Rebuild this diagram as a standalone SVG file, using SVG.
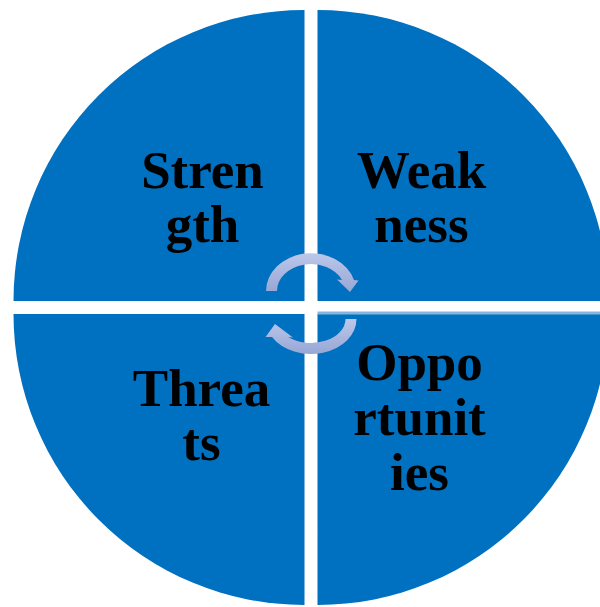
<svg xmlns="http://www.w3.org/2000/svg" width="600" height="607" viewBox="0 0 600 607">
  <defs>
    <linearGradient id="arrowGrad" x1="0" y1="0" x2="0" y2="1">
      <stop offset="0" stop-color="#BCC7E9"/>
      <stop offset="1" stop-color="#97A7D6"/>
    </linearGradient>
    <style>
      .quad { fill: #0070C0; }
      .label { font-family: "Liberation Serif", "Times New Roman", serif; font-weight: bold; font-size: 53px; fill: #000000; text-anchor: middle; }
      .arrow { fill: url(#arrowGrad); }
    </style>
  </defs>
  <rect width="600" height="607" fill="#FFFFFF"/>

  <g id="strength">
    <path class="quad" d="M 304.5,301 L 13.5,301 A 291 291 0 0 1 304.5,10 Z"/>
    <text class="label" x="202.5" y="187.5">Stren</text>
    <text class="label" x="202.5" y="241.5">gth</text>
  </g>

  <g id="weakness">
    <path class="quad" d="M 317.5,301 L 317.5,10 A 291 291 0 0 1 608.5,301 Z"/>
    <text class="label" x="421.5" y="187.5">Weak</text>
    <text class="label" x="421.5" y="241.5">ness</text>
  </g>

  <g id="threats">
    <path class="quad" d="M 304.5,314 L 304.5,605 A 291 291 0 0 1 13.5,314 Z"/>
    <text class="label" x="201.5" y="405.5">Threa</text>
    <text class="label" x="201.5" y="460">ts</text>
  </g>

  <g id="opportunities">
    <path class="quad" d="M 317.5,314 L 608.5,314 A 291 291 0 0 1 317.5,605 Z"/>
    <rect x="317.5" y="311.5" width="283" height="3" fill="#86B6E0"/>
    <text class="label" x="419.5" y="380">Oppo</text>
    <text class="label" x="419.5" y="435">rtunit</text>
    <text class="label" x="419.5" y="490">ies</text>
  </g>

  <g id="connectors">
    <path class="arrow" d="M 266,291 A 45 38 0 0 1 354,280 L 358.5,280.5 L 350,292 L 337,279.5 L 342,280 A 34 27 0 0 0 277,291 Z"/>
    <path class="arrow" d="M 356.5,319 A 45.5 35 0 0 1 272,337 L 265.5,337 L 275,324 L 293,337.5 L 288.2,337 A 34.5 24 0 0 0 345.5,319 Z"/>
  </g>
</svg>
